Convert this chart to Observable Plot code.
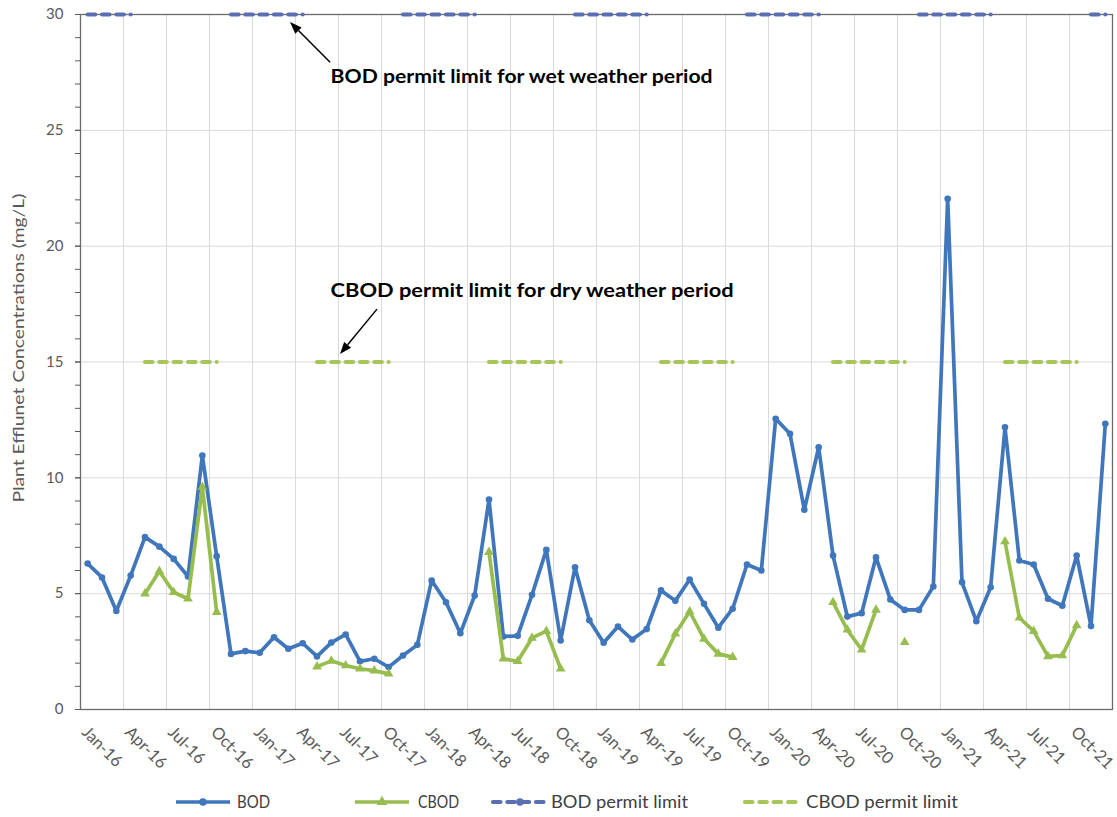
<!DOCTYPE html>
<html><head><meta charset="utf-8">
<script src="https://cdn.jsdelivr.net/npm/d3@7"></script>
<script src="https://cdn.jsdelivr.net/npm/@observablehq/plot@0.6"></script>
<style>
body{margin:0;background:#fff;font-family:Lato,"Open Sans",sans-serif;}
#wrap{width:1117px;height:817px;overflow:hidden;background:#fff}
#chart svg, #legend svg{display:block}
</style></head><body><div id="wrap"><div id="chart"></div><div id="legend"></div></div>
<script>
// ---------- data ----------
const monthNames = ["Jan","Feb","Mar","Apr","May","Jun","Jul","Aug","Sep","Oct","Nov","Dec"];
const years = ["16","17","18","19","20","21"];
const months = years.flatMap(y => monthNames.map(m => `${m}-${y}`));

const bod = [
  6.3, 5.7, 4.25, 5.78, 7.44, 7.03, 6.5, 5.74, 10.96, 6.62, 2.4, 2.52,
  2.45, 3.12, 2.62, 2.86, 2.29, 2.89, 3.24, 2.08, 2.19, 1.83, 2.33, 2.79,
  5.57, 4.63, 3.29, 4.92, 9.06, 3.15, 3.18, 4.95, 6.89, 2.98, 6.14, 3.85,
  2.88, 3.58, 3.02, 3.47, 5.14, 4.69, 5.61, 4.56, 3.53, 4.35, 6.26, 6.0,
  12.55, 11.9, 8.62, 11.32, 6.65, 4.01, 4.16, 6.57, 4.75, 4.3, 4.3, 5.31,
  22.05, 5.49, 3.81, 5.28, 12.18, 6.43, 6.26, 4.78, 4.48, 6.65, 3.6, 12.33
];
const cbod = [
  null, null, null, null, 5.0, 5.97, 5.06, 4.78, 9.6, 4.2, null, null,
  null, null, null, null, 1.85, 2.1, 1.9, 1.76, 1.68, 1.54, null, null,
  null, null, null, null, 6.79, 2.19, 2.08, 3.09, 3.38, 1.76, null, null,
  null, null, null, null, 2.0, 3.27, 4.23, 3.05, 2.4, 2.26, null, null,
  null, null, null, null, 4.63, 3.44, 2.58, 4.3, null, 2.9, null, null,
  null, null, null, null, 7.25, 3.96, 3.38, 2.29, 2.33, 3.63, null, null
];
const bodPermit = [
  30, 30, 30, 30, null, null, null, null, null, null, 30, 30,
  30, 30, 30, 30, null, null, null, null, null, null, 30, 30,
  30, 30, 30, 30, null, null, null, null, null, null, 30, 30,
  30, 30, 30, 30, null, null, null, null, null, null, 30, 30,
  30, 30, 30, 30, null, null, null, null, null, null, 30, 30,
  30, 30, 30, 30, null, null, null, null, null, null, 30, 30
];
const cbodPermit = [
  null, null, null, null, 15, 15, 15, 15, 15, 15, null, null,
  null, null, null, null, 15, 15, 15, 15, 15, 15, null, null,
  null, null, null, null, 15, 15, 15, 15, 15, 15, null, null,
  null, null, null, null, 15, 15, 15, 15, 15, 15, null, null,
  null, null, null, null, 15, 15, 15, 15, 15, 15, null, null,
  null, null, null, null, 15, 15, 15, 15, 15, 15, null, null
];
const yTicks = [0, 5, 10, 15, 20, 25, 30];
const yLabel = "Plant Efflunet Concentrations (mg/L)";
const notes = [
  {text: "BOD permit limit for wet weather period", x: 16.95, y: 27.3, width: 382},
  {text: "CBOD permit limit for dry weather period", x: 16.95, y: 18.05, width: 403}
];
const arrows = [
  {x1: 16.95, y1: 27.92, x2: 14.15, y2: 29.65},
  {x1: 20.22, y1: 17.26, x2: 17.64, y2: 15.32}
];
const legendItems = [
  {name: "BOD", key: "bod"},
  {name: "CBOD", key: "cbod"},
  {name: "BOD permit limit", key: "bodp"},
  {name: "CBOD permit limit", key: "cbodp"}
];

// ---------- styles ----------
const BLUE = "#3F76BC", GREEN = "#97BD4F", BLUEP = "#5A6FB3", GREENP = "#A8C55C";
const DASH = "7.5,6.83";
const table = months.map((m, i) => ({i, month: m, bod: bod[i], cbod: cbod[i], bodp: bodPermit[i], cbodp: cbodPermit[i]}));
const xTicks = months.map((m, i) => i).filter(i => i % 3 === 0);
const xGrid = xTicks.slice(1).map(i => i - 0.5);

function arrowMark(index, scales) {
  const g = d3.create("svg:g");
  for (const a of arrows) {
    const x1 = scales.x(a.x1), y1 = scales.y(a.y1), x2 = scales.x(a.x2), y2 = scales.y(a.y2);
    const dx = x2 - x1, dy = y2 - y1, L = Math.hypot(dx, dy), ux = dx / L, uy = dy / L;
    const hl = 12, hw = 4.5;
    const bx = x2 - ux * hl, by = y2 - uy * hl;
    g.append("line").attr("x1", x1).attr("y1", y1).attr("x2", bx).attr("y2", by)
      .attr("stroke", "#000").attr("stroke-width", 1.5);
    g.append("path").attr("d", `M${x2},${y2}L${bx - uy * hw},${by + ux * hw}L${bx + uy * hw},${by - ux * hw}Z`)
      .attr("fill", "#000");
  }
  return g.node();
}

const chart = Plot.plot({
  width: 1117, height: 780,
  marginLeft: 80, marginRight: 5, marginTop: 14, marginBottom: 71,
  style: {fontFamily: "Lato, 'Open Sans', sans-serif", fontSize: "15px", color: "#595959", background: "#fff", overflow: "visible"},
  x: {type: "linear", domain: [-0.5, 71.5]},
  y: {domain: [0, 30]},
  marks: [
    Plot.gridY([5, 10, 15, 20, 25], {stroke: "#d9d9d9", strokeOpacity: 1, strokeWidth: 1}),
    Plot.ruleX(xGrid, {stroke: "#d9d9d9", strokeWidth: 1}),
    Plot.frame({stroke: "#6b6b6b", strokeWidth: 1.3}),
    Plot.axisY({ticks: d3.range(0, 31, 1), tickSize: 5, tickFormat: () => "", label: null}),
    Plot.axisY({ticks: yTicks, tickSize: 5, tickPadding: 12, label: null, fontSize: 15, fill: "#595959"}),
    Plot.axisX({ticks: xTicks, tickFormat: i => months[i], tickRotate: 45, tickSize: 0, tickPadding: 20, dx: -3, label: null, fontSize: 16.5, fill: "#595959"}),
    Plot.text([yLabel], {frameAnchor: "left", y: [15.6], text: d => d, rotate: -90, dx: -62, textAnchor: "middle", fill: "#595959", fontSize: 16}),
    Plot.line(table, {x: "i", y: "bod", stroke: BLUE, strokeWidth: 3.7}),
    Plot.dot(table, {x: "i", y: "bod", r: 3.3, fill: BLUE, stroke: null}),
    Plot.line(table, {x: "i", y: "cbod", stroke: GREEN, strokeWidth: 3.7}),
    Plot.dot(table.filter(d => d.cbod != null), {x: "i", y: "cbod", r: 3.6, symbol: "triangle", fill: GREEN, stroke: null}),
    Plot.line(table, {x: "i", y: "bodp", stroke: BLUEP, strokeWidth: 4.2, strokeDasharray: DASH, strokeLinecap: "round"}),
    Plot.line(table, {x: "i", y: "cbodp", stroke: GREENP, strokeWidth: 4.2, strokeDasharray: DASH, strokeLinecap: "round"}),
    Plot.text(notes, {x: "x", y: "y", text: "text", textAnchor: "start", fontWeight: "bold", fill: "#000", fontSize: 18}),
    arrowMark
  ]
});
document.getElementById("chart").appendChild(chart);

// fit annotation / axis-label text widths
d3.select(chart).selectAll("text").each(function() {
  const n = notes.find(o => o.text === this.textContent);
  if (n) { this.setAttribute("textLength", n.width); this.setAttribute("lengthAdjust", "spacingAndGlyphs"); }
  if (this.textContent === yLabel) { this.setAttribute("textLength", 309); this.setAttribute("lengthAdjust", "spacingAndGlyphs"); }
});

// ---------- legend (SVG below the chart) ----------
const legendPos = [
  {sx: 176, tx: 237, tw: 33}, {sx: 355, tx: 418, tw: 41}, {sx: 493, tx: 551, tw: 137}, {sx: 745, tx: 806, tw: 152}
];
const colorOf = {bod: BLUE, cbod: GREEN, bodp: BLUEP, cbodp: GREENP};
const lsvg = d3.create("svg").attr("width", 1117).attr("height", 37)
  .style("font-family", "Lato, 'Open Sans', sans-serif");
const cy = 22;
legendItems.forEach((it, k) => {
  const p = legendPos[k], sw = 56, color = colorOf[it.key];
  const dashed = it.key.endsWith("p");
  const ln = lsvg.append("line").attr("x1", p.sx).attr("x2", p.sx + sw - 2).attr("y1", cy).attr("y2", cy)
    .attr("stroke", color).attr("stroke-width", dashed ? 4.2 : 3.7);
  if (dashed) ln.attr("stroke-dasharray", DASH).attr("stroke-linecap", "round");
  if (it.key === "bod" || it.key === "bodp") lsvg.append("circle").attr("cx", p.sx + sw / 2 - 1).attr("cy", cy).attr("r", 3.8).attr("fill", color);
  if (it.key === "cbod") lsvg.append("path").attr("d", d3.symbol(d3.symbolTriangle, 50)()).attr("transform", `translate(${p.sx + sw / 2 - 1},${cy})`).attr("fill", color);
  lsvg.append("text").attr("x", p.tx).attr("y", cy).attr("dy", "0.35em").attr("font-size", 17).attr("fill", "#404040")
    .attr("textLength", p.tw).attr("lengthAdjust", "spacingAndGlyphs").text(it.name);
});
document.getElementById("legend").appendChild(lsvg.node());
</script>
</body></html>
